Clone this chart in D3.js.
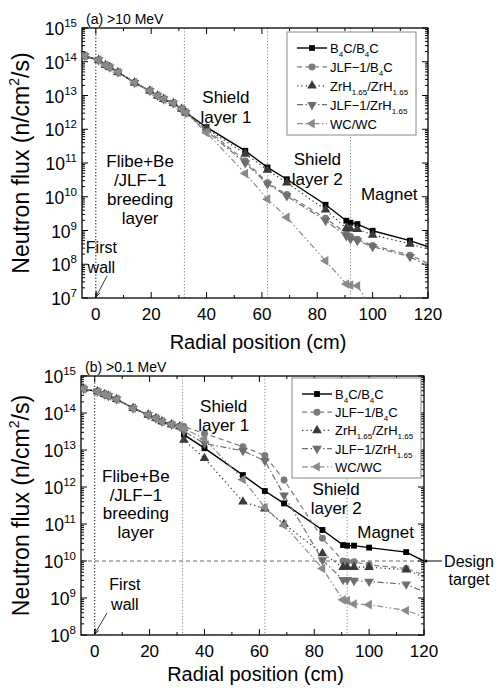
<!DOCTYPE html>
<html><head><meta charset="utf-8">
<script src="https://cdn.jsdelivr.net/npm/d3@7"></script>
<style>
body{margin:0;background:#fff}
svg{display:block}
text{font-family:"Liberation Sans",Arial,sans-serif;fill:#000}
</style>
</head><body>
<svg id="c" width="503" height="688"></svg>
<script>
// ---------- DATA ----------
const radialPositions = [-4, 1, 3.5, 5, 8, 14, 19.5, 22.3, 24.5, 28, 31, 32.5, 40, 54, 62, 69, 83, 90.5, 92, 94.5, 100, 113.5, 120];

// (a) > 10 MeV
const fluxA_B4C_B4C   = [1.48e14,1.12e14,7.9e13,6.9e13,4.9e13,2.4e13,1.38e13,9.8e12,7.8e12,5.9e12,4.0e12,3.1e12, 1.15e12,2.3e11,7.4e10,3.3e10,5.8e9,1.95e9,1.7e9,1.55e9,9.8e8,5.0e8,3.3e8];
const fluxA_JLF_B4C   = [1.48e14,1.12e14,7.9e13,6.9e13,4.9e13,2.4e13,1.38e13,9.8e12,7.8e12,5.9e12,4.0e12,3.1e12, 1.0e12,1.15e11,2.6e10,1.17e10,2.3e9,8.3e8,6.6e8,5.5e8,3.6e8,1.86e8,1.07e8];
const fluxA_ZrH_ZrH   = [1.48e14,1.12e14,7.9e13,6.9e13,4.9e13,2.4e13,1.38e13,9.8e12,7.8e12,5.9e12,4.0e12,3.1e12, 1.05e12,1.86e11,6.2e10,2.6e10,4.1e9,1.17e9,1.12e9,1.1e9,7.4e8,4.0e8,2.8e8];
const fluxA_JLF_ZrH   = [1.48e14,1.12e14,7.9e13,6.9e13,4.9e13,2.4e13,1.38e13,9.8e12,7.8e12,5.9e12,4.0e12,3.1e12, 8.9e11,1.0e11,2.4e10,1.05e10,1.95e9,6.9e8,5.6e8,5.0e8,3.3e8,1.66e8,8.9e7];
const fluxA_WC_WC     = [1.48e14,1.12e14,7.9e13,6.9e13,4.9e13,2.4e13,1.38e13,9.8e12,7.8e12,5.9e12,4.0e12,3.1e12, 7.9e11,4.9e10,8.5e9,2.45e9,1.26e8,2.6e7,2.4e7,2.3e7,4.5e6,1.6e6,1.0e6];

// (b) > 0.1 MeV
const fluxB_B4C_B4C   = [4.5e14,3.8e14,3.2e14,2.9e14,2.35e14,1.35e14,8.9e13,7.2e13,5.9e13,4.9e13,4.3e13, 2.6e13,1.12e13,2.1e12,7.8e11,3.6e11,6.9e10,2.7e10,2.6e10,2.6e10,2.3e10,1.74e10,1.0e10];
const fluxB_JLF_B4C   = [4.5e14,3.8e14,3.2e14,2.9e14,2.35e14,1.35e14,8.9e13,7.2e13,5.9e13,4.9e13,4.3e13, 4.3e13,2.8e13,1.23e13,7.1e12,1.55e12,4.1e10,1.0e10,9.5e9,9.5e9,7.9e9,6.3e9,4.2e9];
const fluxB_ZrH_ZrH   = [4.5e14,3.8e14,3.2e14,2.9e14,2.35e14,1.35e14,8.9e13,7.2e13,5.9e13,4.9e13,4.3e13, 1.86e13,6.0e12,4.0e11,2.6e11,1.0e11,1.6e10,6.8e9,6.8e9,6.8e9,6.8e9,5.8e9,3.6e9];
const fluxB_JLF_ZrH   = [4.5e14,3.8e14,3.2e14,2.9e14,2.35e14,1.35e14,8.9e13,7.2e13,5.9e13,4.9e13,4.3e13, 3.2e13,1.5e13,9.5e12,5.1e12,6.0e11,1.07e10,3.1e9,3.1e9,2.95e9,2.8e9,2.35e9,1.48e9];
const fluxB_WC_WC     = [4.5e14,3.8e14,3.2e14,2.9e14,2.35e14,1.35e14,8.9e13,7.2e13,5.9e13,4.9e13,4.3e13, 3.8e13,2.0e13,1.6e12,2.8e11,9.3e10,6.3e9,8.9e8,8.5e8,6.9e8,6.6e8,4.6e8,3.1e8];

const seriesKeys = ["B4C_B4C","JLF_B4C","ZrH_ZrH","JLF_ZrH","WC_WC"];
// legend labels: [text, isSubscript] pieces
const legendLabels = [
  [["B",0],["4",1],["C/B",0],["4",1],["C",0]],
  [["JLF\u22121/B",0],["4",1],["C",0]],
  [["ZrH",0],["1.65",1],["/ZrH",0],["1.65",1]],
  [["JLF\u22121/ZrH",0],["1.65",1]],
  [["WC/WC",0]]
];
const xTicksMajor = [0, 20, 40, 60, 80, 100, 120];
const xTicksMinor = [10, 30, 50, 70, 90, 110];
const boundaryPositions = [0, 32, 62, 92];
const panelTitles = ["(a) >10 MeV", "(b) >0.1 MeV"];
const designTarget = 1e10;

// ---------- STYLE ----------
const styles = {
  B4C_B4C: {color:"#000", lineColor:"#000", dash:null, sym:d3.symbolSquare, size:34, rot:0},
  JLF_B4C: {color:"#7a7a7a", lineColor:"#7a7a7a", dash:"5,3.5", sym:d3.symbolCircle, size:38, rot:0},
  ZrH_ZrH: {color:"#3a3a3a", lineColor:"#3a3a3a", dash:"1.3,3", sym:d3.symbolTriangle, size:40, rot:0},
  JLF_ZrH: {color:"#6e6e6e", lineColor:"#6e6e6e", dash:"6,2.5,1.5,2.5", sym:d3.symbolTriangle, size:40, rot:180},
  WC_WC:   {color:"#8a8a8a", lineColor:"#8a8a8a", dash:"6,2.5,1.5,2.5,1.5,2.5", sym:d3.symbolTriangle, size:40, rot:-90}
};

const svg = d3.select("#c");
const defs = svg.append("defs");
defs.append("marker").attr("id","arr").attr("viewBox","0 0 10 10").attr("refX",10).attr("refY",5)
  .attr("markerWidth",7).attr("markerHeight",7).attr("orient","auto-start-reverse")
  .append("path").attr("d","M0,1.5 L10,5 L0,8.5").attr("fill","none").attr("stroke","#000").attr("stroke-width",1.2);

function drawPanel(p) {
  const x = d3.scaleLinear().domain([-5, 120]).range([p.left, p.right]);
  const y = d3.scaleLog().domain(p.yDomain).range([p.bottom, p.top]);
  const g = svg.append("g");
  const clipId = "clip" + p.id;
  defs.append("clipPath").attr("id", clipId).append("rect")
    .attr("x", p.left).attr("y", p.top).attr("width", p.right - p.left).attr("height", p.bottom - p.top);

  // boundaries
  boundaryPositions.forEach((b, i) => {
    g.append("line").attr("x1", x(b)).attr("x2", x(b)).attr("y1", p.top).attr("y2", p.bottom)
      .attr("stroke", i === 0 ? "#000" : "#888").attr("stroke-width", 1).attr("stroke-dasharray", "1.2,2");
  });
  if (p.design) {
    g.append("line").attr("x1", p.left).attr("x2", p.right).attr("y1", y(designTarget)).attr("y2", y(designTarget))
      .attr("stroke", "#666").attr("stroke-width", 1).attr("stroke-dasharray", "4,3");
  }

  // frame
  g.append("rect").attr("x", p.left).attr("y", p.top).attr("width", p.right - p.left).attr("height", p.bottom - p.top)
    .attr("fill", "none").attr("stroke", "#000").attr("stroke-width", 1.3);

  // x ticks
  const tk = g.append("g").attr("stroke", "#000").attr("stroke-width", 1);
  xTicksMajor.forEach(t => {
    tk.append("line").attr("x1", x(t)).attr("x2", x(t)).attr("y1", p.bottom).attr("y2", p.bottom - 6);
    tk.append("line").attr("x1", x(t)).attr("x2", x(t)).attr("y1", p.top).attr("y2", p.top + 6);
    g.append("text").attr("x", x(t)).attr("y", p.bottom + 22).attr("text-anchor", "middle")
      .attr("font-size", 17).text(t);
  });
  xTicksMinor.forEach(t => {
    tk.append("line").attr("x1", x(t)).attr("x2", x(t)).attr("y1", p.bottom).attr("y2", p.bottom - 3);
    tk.append("line").attr("x1", x(t)).attr("x2", x(t)).attr("y1", p.top).attr("y2", p.top + 3);
  });
  // y ticks
  const e0 = Math.round(Math.log10(p.yDomain[0])), e1 = Math.round(Math.log10(p.yDomain[1]));
  for (let e = e0; e <= e1; e++) {
    const v = Math.pow(10, e);
    tk.append("line").attr("x1", p.left).attr("x2", p.left + 6).attr("y1", y(v)).attr("y2", y(v));
    tk.append("line").attr("x1", p.right).attr("x2", p.right - 6).attr("y1", y(v)).attr("y2", y(v));
    const t = g.append("text").attr("x", p.left - 5).attr("y", y(v) + 7).attr("text-anchor", "end").attr("font-size", 17.5);
    t.append("tspan").text("10");
    t.append("tspan").attr("font-size", 11.5).attr("dy", -8).text(e);
    if (e < e1) {
      for (let m = 2; m <= 9; m++) {
        const mv = m * v;
        tk.append("line").attr("x1", p.left).attr("x2", p.left + 3).attr("y1", y(mv)).attr("y2", y(mv));
        tk.append("line").attr("x1", p.right).attr("x2", p.right - 3).attr("y1", y(mv)).attr("y2", y(mv));
      }
    }
  }

  // series
  const plot = g.append("g").attr("clip-path", `url(#${clipId})`);
  seriesKeys.forEach(k => {
    const vals = p.data[k];
    const st = styles[k];
    const pts = radialPositions.map((r, i) => [r, vals[i]]);
    plot.append("path").datum(pts)
      .attr("d", d3.line().x(d => x(d[0])).y(d => y(d[1])))
      .attr("fill", "none").attr("stroke", st.lineColor).attr("stroke-width", k === "B4C_B4C" ? 1.4 : 1.2)
      .attr("stroke-dasharray", st.dash);
  });
  seriesKeys.forEach(k => {
    const vals = p.data[k];
    const st = styles[k];
    const pts = radialPositions.map((r, i) => [r, vals[i]]).filter(d => d[0] < 120);
    plot.selectAll(null).data(pts).enter().append("path")
      .attr("d", d3.symbol().type(st.sym).size(st.size))
      .attr("transform", d => `translate(${x(d[0])},${y(d[1])}) rotate(${st.rot})`)
      .attr("fill", st.color);
  });

  // legend
  const L = p.legend;
  g.append("rect").attr("x", L.x).attr("y", L.y).attr("width", L.w).attr("height", L.h)
    .attr("fill", "#fff").attr("stroke", "#888").attr("stroke-width", 1);
  seriesKeys.forEach((k, i) => {
    const st = styles[k];
    const yy = L.y + L.first + i * L.step;
    g.append("line").attr("x1", L.x + 10).attr("x2", L.x + 40).attr("y1", yy).attr("y2", yy)
      .attr("stroke", st.lineColor).attr("stroke-width", k === "B4C_B4C" ? 1.4 : 1.2).attr("stroke-dasharray", st.dash);
    g.append("path").attr("d", d3.symbol().type(st.sym).size(st.size))
      .attr("transform", `translate(${L.x + 25},${yy}) rotate(${st.rot})`).attr("fill", st.color);
    const t = g.append("text").attr("x", L.x + 43).attr("y", yy + 5).attr("font-size", 13);
    let sub = false;
    legendLabels[i].forEach(([s, isSub]) => {
      const ts = t.append("tspan").text(s);
      if (isSub && !sub) { ts.attr("font-size", 8).attr("dy", 4); sub = true; }
      else if (!isSub && sub) { ts.attr("dy", -4); sub = false; }
      else if (isSub) ts.attr("font-size", 8);
    });
  });

  // title
  g.append("text").attr("x", p.left + 4).attr("y", p.top - 4).attr("font-size", 14).text(panelTitles[p.id]);

  // axis labels
  const yl = g.append("text").attr("transform", `translate(${p.ylabX},${(p.top + p.bottom) / 2}) rotate(-90)`)
    .attr("text-anchor", "middle").attr("font-size", 23);
  yl.append("tspan").text("Neutron flux (n/cm");
  yl.append("tspan").attr("font-size", 14).attr("dy", -10).text("2");
  yl.append("tspan").attr("dy", 10).text("/s)");
  g.append("text").attr("x", (p.left + p.right) / 2 + 3).attr("y", p.xlabY).attr("text-anchor", "middle")
    .attr("font-size", 20).text("Radial position (cm)");

  // region annotations
  const multi = (cx, cy, lines, lh, size) => {
    lines.forEach((s, i) => g.append("text").attr("x", cx).attr("y", cy + i * lh).attr("text-anchor", "middle")
      .attr("font-size", size).text(s));
  };
  p.notes.forEach(n => multi(x(n.x), n.y, n.lines, n.lh, n.size));

  // First wall arrow
  g.append("line").attr("x1", p.fw.x1).attr("y1", p.fw.y1).attr("x2", x(0)).attr("y2", p.bottom - 1)
    .attr("stroke", "#000").attr("stroke-width", 0.8).attr("marker-end", "url(#arr)");

  if (p.design) {
    g.append("line").attr("x1", p.right + 18).attr("x2", p.right + 1).attr("y1", y(designTarget)).attr("y2", y(designTarget))
      .attr("stroke", "#000").attr("stroke-width", 1);
    g.append("circle").attr("cx", p.right + 2).attr("cy", y(designTarget)).attr("r", 1.5).attr("fill", "#000");
    multi(p.right + 45, y(designTarget) + 6, ["Design", "target"], 18, 16);
  }
}

drawPanel({
  id: 0, left: 82, right: 428, top: 28, bottom: 298, yDomain: [1e7, 1e15], ylabX: 29, xlabY: 349,
  data: {B4C_B4C: fluxA_B4C_B4C, JLF_B4C: fluxA_JLF_B4C, ZrH_ZrH: fluxA_ZrH_ZrH, JLF_ZrH: fluxA_JLF_ZrH, WC_WC: fluxA_WC_WC},
  legend: {x: 287, y: 32, w: 129, h: 103, first: 16, step: 18.9},
  notes: [
    {x: 16, y: 167, lines: ["Flibe+Be", "/JLF\u22121", "breeding", "layer"], lh: 19, size: 17},
    {x: 47, y: 103, lines: ["Shield", "layer 1"], lh: 20, size: 17},
    {x: 80, y: 165, lines: ["Shield", "layer 2"], lh: 20, size: 17},
    {x: 106, y: 200, lines: ["Magnet"], lh: 20, size: 17},
    {x: 2, y: 253, lines: ["First", "wall"], lh: 20, size: 16}
  ],
  fw: {x1: 107, y1: 276}
});

drawPanel({
  id: 1, left: 81, right: 424, top: 376, bottom: 635, yDomain: [1e8, 1e15], ylabX: 29, xlabY: 681, design: true,
  data: {B4C_B4C: fluxB_B4C_B4C, JLF_B4C: fluxB_JLF_B4C, ZrH_ZrH: fluxB_ZrH_ZrH, JLF_ZrH: fluxB_JLF_ZrH, WC_WC: fluxB_WC_WC},
  legend: {x: 292, y: 378, w: 129, h: 100, first: 16, step: 18.2},
  notes: [
    {x: 15, y: 482, lines: ["Flibe+Be", "/JLF\u22121", "breeding", "layer"], lh: 18.5, size: 17},
    {x: 47, y: 412, lines: ["Shield", "layer 1"], lh: 19, size: 17},
    {x: 88, y: 495, lines: ["Shield", "layer 2"], lh: 19, size: 17},
    {x: 106, y: 538, lines: ["Magnet"], lh: 19, size: 17},
    {x: 11, y: 590, lines: ["First", "wall"], lh: 20, size: 16}
  ],
  fw: {x1: 107, y1: 613}
});
</script>
</body></html>
